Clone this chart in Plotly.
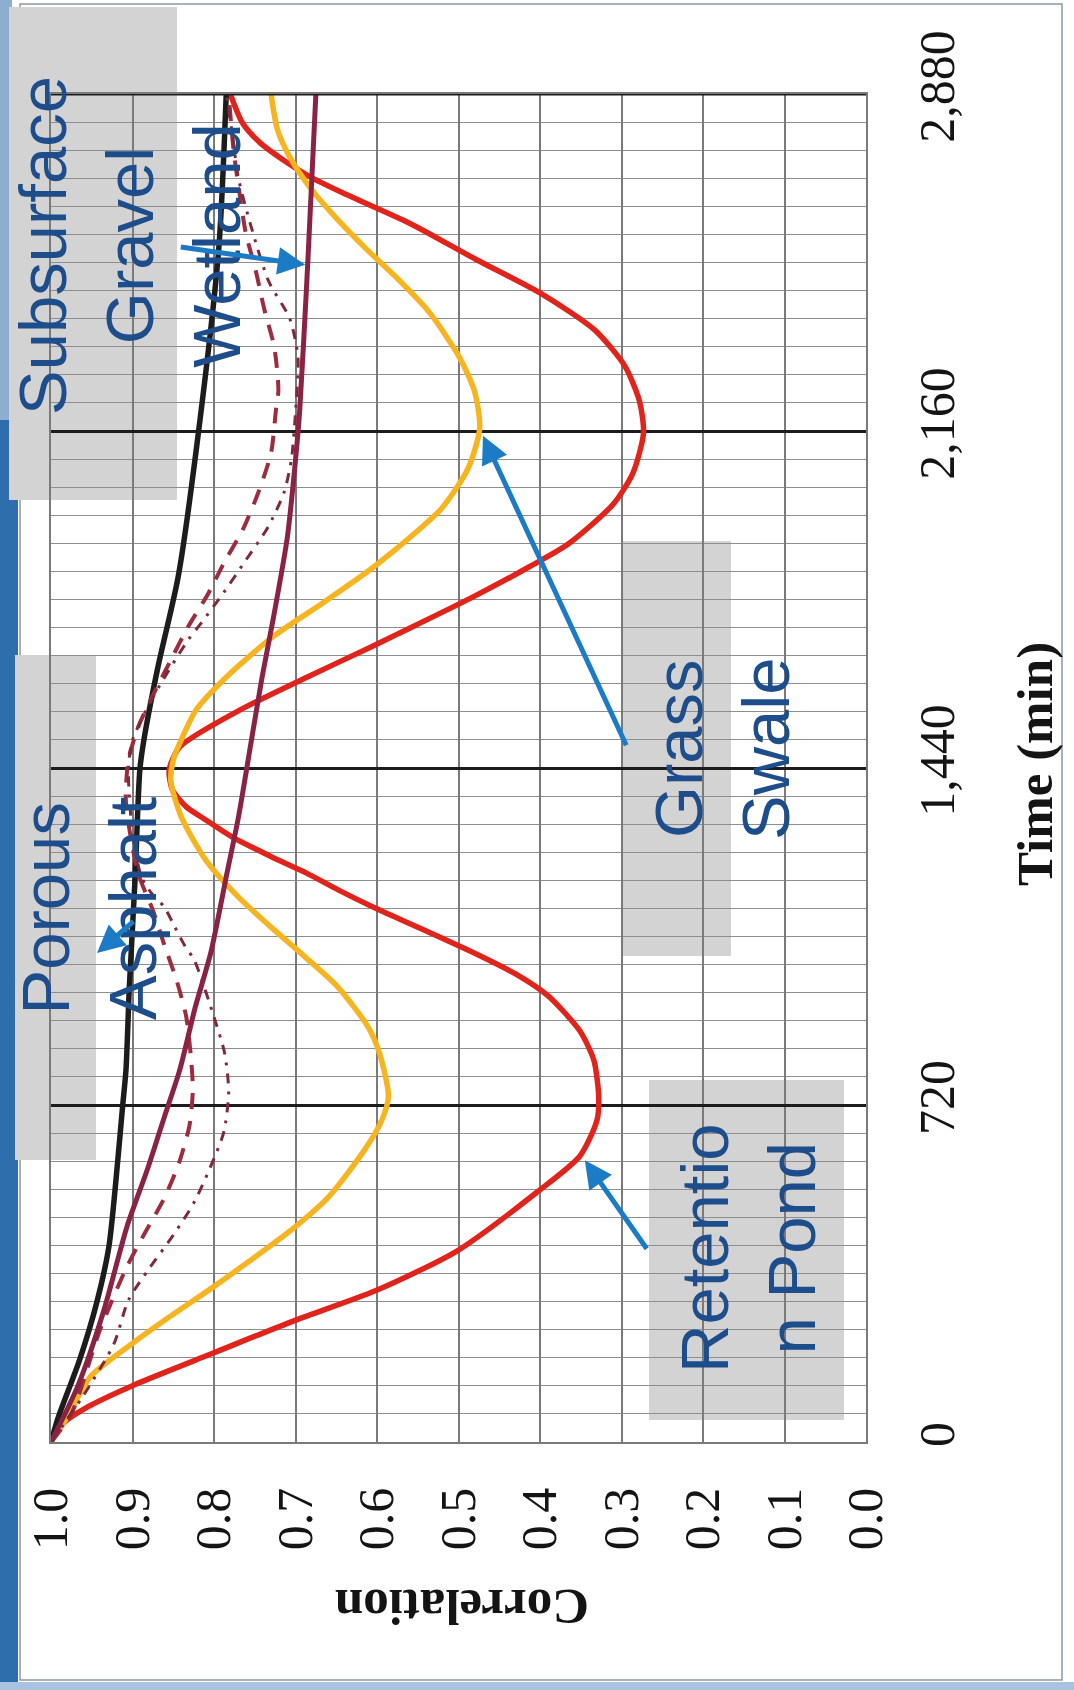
import plotly.graph_objects as go

# ---- data: correlation vs. time lag (minutes) for each BMP ----
ret_t = [0, 40, 75, 122, 190, 261, 323, 408, 532, 611, 688, 739, 816, 878, 953, 1000, 1040, 1100, 1143, 1179,
         1216, 1250, 1293, 1329, 1357, 1393, 1436, 1485, 1564, 1634, 1698, 1726, 1803, 1870, 1919, 2004, 2070,
         2156, 2224, 2299, 2376, 2453, 2527, 2604, 2668, 2703, 2739, 2775, 2818, 2880]
ret_c = [1.0, 0.985, 0.955, 0.898, 0.801, 0.699, 0.602, 0.502, 0.405, 0.351, 0.330, 0.328, 0.334, 0.351, 0.39,
         0.43, 0.475, 0.55, 0.605, 0.647, 0.687, 0.729, 0.778, 0.810, 0.834, 0.851, 0.855, 0.842, 0.768, 0.686,
         0.608, 0.575, 0.485, 0.413, 0.365, 0.31, 0.286, 0.273, 0.278, 0.296, 0.333, 0.398, 0.479, 0.560, 0.641,
         0.682, 0.715, 0.743, 0.765, 0.78]

swale_t = [0, 53, 139, 212, 267, 325, 367, 453, 524, 630, 688, 739, 831, 887, 972, 1036, 1100, 1164, 1243,
           1335, 1412, 1457, 1493, 1564, 1634, 1720, 1792, 1863, 1900, 1994, 2081, 2166, 2243, 2318, 2414,
           2491, 2547, 2611, 2675, 2745, 2803, 2880]
swale_c = [1.0, 0.98, 0.952, 0.899, 0.855, 0.806, 0.772, 0.705, 0.659, 0.613, 0.594, 0.586, 0.597, 0.611, 0.648,
           0.688, 0.73, 0.77, 0.81, 0.84, 0.853, 0.85, 0.842, 0.822, 0.785, 0.728, 0.667, 0.609, 0.582, 0.521,
           0.488, 0.474, 0.480, 0.499, 0.536, 0.578, 0.612, 0.648, 0.680, 0.707, 0.722, 0.73]

black_t = [0, 53, 175, 297, 417, 603, 720, 795, 967, 1198, 1436, 1500, 1654, 1848, 2158, 2553, 2880]
black_c = [1.0, 0.991, 0.965, 0.944, 0.929, 0.918, 0.912, 0.908, 0.904, 0.897, 0.891, 0.886, 0.869, 0.844,
           0.819, 0.794, 0.785]

wetland_t = [0, 120, 282, 459, 581, 694, 795, 929, 1045, 1216, 1335, 1500, 1634, 1762, 1933, 2098, 2200,
             2483, 2626, 2880]
wetland_c = [1.0, 0.967, 0.935, 0.907, 0.882, 0.861, 0.842, 0.823, 0.804, 0.784, 0.770, 0.754, 0.741,
             0.727, 0.71, 0.70, 0.695, 0.686, 0.682, 0.675]

dash_t = [0, 60, 239, 374, 446, 521, 596, 677, 752, 816, 908, 987, 1057, 1136, 1215, 1365, 1457, 1536, 1681,
          1741, 1813, 1884, 1948, 2027, 2113, 2205, 2247, 2339, 2418, 2504, 2583, 2660, 2760, 2880]
dash_c = [1.0, 0.975, 0.94, 0.907, 0.885, 0.861, 0.843, 0.830, 0.826, 0.828, 0.834, 0.846, 0.860, 0.875, 0.893,
          0.908, 0.905, 0.891, 0.850, 0.832, 0.807, 0.786, 0.765, 0.746, 0.730, 0.724, 0.721, 0.726, 0.738,
          0.749, 0.761, 0.768, 0.776, 0.782]

dot_t = [0, 100, 209, 303, 372, 442, 510, 585, 662, 748, 831, 908, 1029, 1061, 1100, 1143, 1173, 1207, 1300,
         1440, 1500, 1600, 1713, 1749, 1815, 1884, 1954, 2029, 2100, 2200, 2318, 2400, 2480, 2600, 2700,
         2800, 2880]
dot_c = [1.0, 0.96, 0.923, 0.905, 0.879, 0.850, 0.825, 0.805, 0.788, 0.782, 0.787, 0.80, 0.824, 0.836, 0.848,
         0.861, 0.877, 0.889, 0.90, 0.905, 0.90, 0.872, 0.832, 0.816, 0.788, 0.761, 0.734, 0.714, 0.705, 0.70,
         0.697, 0.707, 0.733, 0.755, 0.77, 0.778, 0.785]

time_ticks = [0, 720, 1440, 2160, 2880]

# ---- page geometry (pixels) ----
W, H = 1074, 1690
L, R, T, B = 51, 866, 94, 1442          # plot area edges


def px(x):
    return (x - L) / (R - L)


def py(y):
    return (B - y) / (B - T)


fig = go.Figure()

series = [
    (ret_t, ret_c, "#E0241C", 5.5, "solid"),
    (swale_t, swale_c, "#F6B420", 5.5, "solid"),
    (black_t, black_c, "#1C1C1C", 5.5, "solid"),
    (dash_t, dash_c, "#9B2D3E", 4, "16px,12px"),
    (dot_t, dot_c, "#7E2A38", 3, "10px,8px,3px,8px"),
    (wetland_t, wetland_c, "#8A2244", 5, "solid"),
]
for t, c, col, w, dash in series:
    fig.add_trace(go.Scatter(
        x=c, y=t, mode="lines",
        line=dict(color=col, width=w, dash=dash, shape="spline", smoothing=0.7),
        showlegend=False, hoverinfo="skip"))

tick_font = dict(family="Liberation Serif, Times New Roman, serif", size=50, color="#141414")

fig.update_layout(
    width=W, height=H,
    margin=dict(l=L, r=W - R, t=T, b=H - B, pad=0),
    paper_bgcolor="white",
    plot_bgcolor="rgba(0,0,0,0)",
    showlegend=False,
    xaxis=dict(
        range=[1.0, 0.0], tick0=0, dtick=0.1, tickformat=".1f", tickangle=-90,
        tickfont=tick_font, ticks="", ticklabelstandoff=24,
        showgrid=True, gridcolor="#7a7a7a", gridwidth=1.5, zeroline=False,
        showline=True, linecolor="#7a7a7a", linewidth=1.5, mirror=True,
    ),
    yaxis=dict(
        range=[0, 2880], tickvals=time_ticks, tickformat=",", tickangle=-90, side="right",
        tickfont=tick_font, ticks="", ticklabelstandoff=26,
        showgrid=True, gridcolor="#1c1c1c", gridwidth=3, zeroline=False,
        showline=True, linecolor="#7a7a7a", linewidth=1.5, mirror=True,
        minor=dict(tick0=0, dtick=60, showgrid=True, gridcolor="#8e8e8e", gridwidth=1.2),
    ),
)

shapes = []
# page edge: blue strip on the left, light band at the bottom, thin frame
shapes.append(dict(type="rect", xref="paper", yref="paper", x0=px(0), x1=px(12), y0=py(420), y1=py(0),
                   fillcolor="#8DAECF", line_width=0, layer="below"))
shapes.append(dict(type="rect", xref="paper", yref="paper", x0=px(0), x1=px(18), y0=py(H), y1=py(420),
                   fillcolor="#2F6EAD", line_width=0, layer="below"))
shapes.append(dict(type="rect", xref="paper", yref="paper", x0=px(0), x1=px(W), y0=py(H), y1=py(1682),
                   fillcolor="#A8C3DF", line_width=0, layer="below"))
shapes.append(dict(type="rect", xref="paper", yref="paper", x0=px(20), x1=px(1062), y0=py(1680), y1=py(4),
                   line=dict(color="#8A97A8", width=1.5), fillcolor="rgba(0,0,0,0)", layer="below"))
# grey label panels
for x0, y0, x1, y1 in [(9, 7, 177, 500), (15, 655, 96, 1160), (623, 541, 731, 956), (649, 1080, 844, 1420)]:
    shapes.append(dict(type="rect", xref="paper", yref="paper", x0=px(x0), x1=px(x1), y0=py(y1), y1=py(y0),
                       fillcolor="rgb(211,211,211)", line_width=0, layer="below"))
# heavy line along the last time step
shapes.append(dict(type="line", xref="paper", yref="y", x0=0, x1=1, y0=2880, y1=2880,
                   line=dict(color="#1c1c1c", width=3)))
fig.update_layout(shapes=shapes)

label_font = dict(family="Liberation Sans, Arial, sans-serif", size=67, color="#1D4E8B")
labels = [
    ("Subsurface<br>Gravel<br>Wetland", 129, 246),
    ("Porous<br>Asphalt", 89, 908),
    ("Grass<br>Swale", 722, 749),
    ("Retentio<br>n Pond", 748, 1248),
]
for text, x, y in labels:
    fig.add_annotation(text=text, xref="paper", yref="paper", x=px(x), y=py(y), xanchor="center",
                       yanchor="middle", textangle=-90, showarrow=False, font=label_font, align="center",
                       borderpad=0)

arrow_col = "#1C7BC6"
# arrows: tip position and tail offset (pixels)
arrows = [
    ("x", "y", 0.688, 2515, -126, -18),
    ("x", "y", 0.47, 2150, 144, 311),
    ("x", "y", 0.345, 602, 63, 90),
    ("paper", "paper", px(97), py(953), 38, -33),
]
for xr, yr, x, y, ax, ay in arrows:
    fig.add_annotation(xref=xr, yref=yr, x=x, y=y, ax=ax, ay=ay, text="", showarrow=True,
                       arrowhead=2, arrowsize=1.1, arrowwidth=5, arrowcolor=arrow_col, standoff=0)

title_font = dict(family="Liberation Serif, Times New Roman, serif", size=51, color="#141414")
fig.add_annotation(text="<b>Time (min)</b>", xref="paper", yref="paper", x=px(1035), y=py(764),
                   textangle=-90, showarrow=False, font=title_font, xanchor="center", yanchor="middle")
fig.add_annotation(text="<b>Correlation</b>", xref="paper", yref="paper", x=px(462), y=py(1607),
                   textangle=180, showarrow=False, font=title_font, xanchor="center", yanchor="middle")

fig.write_html("out.html")
